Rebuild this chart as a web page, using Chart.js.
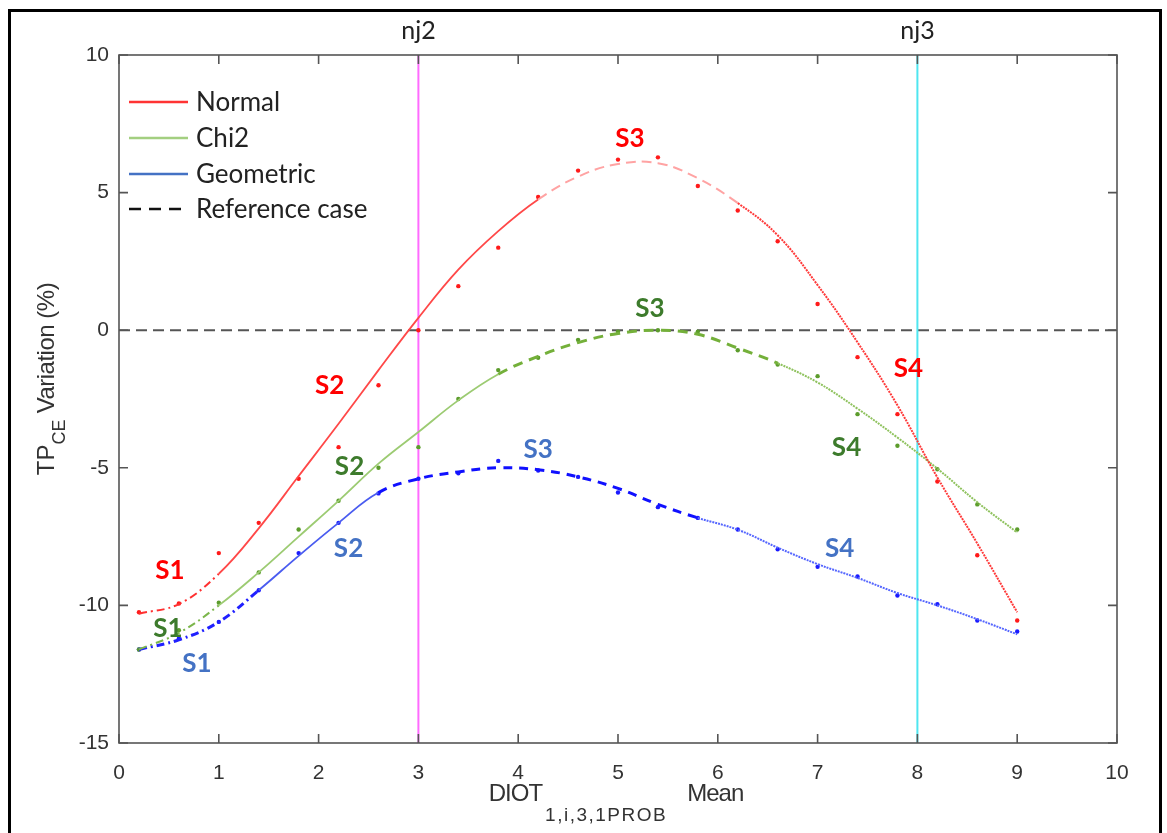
<!DOCTYPE html>
<html>
<head>
<meta charset="utf-8">
<script src="https://cdn.jsdelivr.net/npm/chart.js@4.4.1/dist/chart.umd.min.js"></script>
<style>
  html, body { margin: 0; background: #fff; }
</style>
</head>
<body>
<canvas id="grafico" width="1167" height="833"></canvas>
<script>
// sample points (x = DIOT mean)
const xs = [0.2, 0.6, 1.0, 1.4, 1.8, 2.2, 2.6, 3.0, 3.4, 3.8, 4.2, 4.6, 5.0, 5.4, 5.8, 6.2, 6.6, 7.0, 7.4, 7.8, 8.2, 8.6, 9.0];

// measured points
const normalPts = [-10.25, -9.93, -8.1, -7.0, -5.4, -4.25, -2.0, 0.0, 1.6, 3.0, 4.84, 5.8, 6.2, 6.28, 5.24, 4.35, 3.23, 0.95, -0.98, -3.05, -5.5, -8.18, -10.55];
const chi2Pts   = [-11.6, -10.9, -9.9, -8.8, -7.24, -6.2, -5.0, -4.25, -2.5, -1.45, -1.0, -0.35, -0.05, 0.0, -0.05, -0.73, -1.25, -1.67, -3.05, -4.2, -5.05, -6.33, -7.24];
const geoPts    = [-11.6, -11.2, -10.6, -9.45, -8.1, -7.0, -5.93, -5.4, -5.2, -4.75, -5.1, -5.33, -5.9, -6.43, -6.82, -7.24, -7.96, -8.6, -8.95, -9.64, -9.96, -10.55, -10.95];

// fitted curves
const normalFit = [-10.3, -9.95, -8.85, -7.2, -5.3, -3.4, -1.45, 0.45, 2.2, 3.6, 4.75, 5.58, 6.04, 6.07, 5.52, 4.62, 3.45, 1.64, -0.44, -2.73, -5.35, -7.75, -10.25];
const chi2Fit   = [-11.6, -11.0, -10.0, -8.8, -7.5, -6.2, -4.85, -3.7, -2.55, -1.6, -0.95, -0.45, -0.12, 0.0, -0.15, -0.65, -1.2, -1.9, -2.85, -3.9, -5.03, -6.25, -7.35];
const geoFit    = [-11.6, -11.25, -10.6, -9.45, -8.2, -7.0, -5.9, -5.4, -5.15, -5.0, -5.07, -5.33, -5.75, -6.33, -6.82, -7.25, -7.9, -8.5, -9.0, -9.55, -10.0, -10.5, -11.05];

// stage boundaries S1|S2|S3|S4
const normalCuts = [1.0, 4.2, 6.2];
const chi2Cuts   = [1.0, 3.8, 6.6];
const geoCuts    = [1.4, 2.6, 5.8];

const seriesNames = ['Normal', 'Chi2', 'Geometric', 'Reference case'];
const xTicks = [0, 1, 2, 3, 4, 5, 6, 7, 8, 9, 10];
const yTicks = [-15, -10, -5, 0, 5, 10];
const markerNames = ['nj2', 'nj3'];
const markerX = [3, 8];

// stage labels: text, x, y, series index
const stageText = ['S1', 'S2', 'S3', 'S4', 'S1', 'S2', 'S3', 'S4', 'S1', 'S2', 'S3', 'S4'];
const stageX = [0.51, 2.11, 5.12, 7.91, 0.49, 2.31, 5.32, 7.29, 0.78, 2.3, 4.2, 7.22];
const stageY = [-8.73, -2.0, 6.95, -1.4, -10.84, -4.95, 0.8, -4.25, -12.12, -7.93, -4.33, -7.95];
const stageSeries = [0, 0, 0, 0, 1, 1, 1, 1, 2, 2, 2, 2];

const labelColors = ['#ff0000', '#3d7b2c', '#4472c4'];
const legendColors = ['#ff3333', '#a3cf80', '#4472c4', '#111'];

const styles = [
  [ {c: '#ff3030', w: 2, d: [8, 4, 2, 4]}, {c: '#ff4848', w: 1.8, d: []}, {c: '#ffa3a3', w: 2, d: [10, 6]}, {c: '#ff3a3a', w: 2, d: [2, 1]} ],
  [ {c: '#7cb64c', w: 2, d: [8, 4, 2, 4]}, {c: '#9ccb72', w: 1.8, d: []}, {c: '#74b03a', w: 3, d: [10, 7]}, {c: '#8fc25e', w: 2, d: [2, 1]} ],
  [ {c: '#2020ff', w: 3, d: [8, 4, 2, 4]}, {c: '#4a5cf0', w: 1.8, d: []}, {c: '#1010ff', w: 3, d: [9, 7]}, {c: '#5566ff', w: 2, d: [2, 1]} ]
];
const dotColors = ['#ff1a1a', '#5c9c2c', '#1a1aff'];

function pairs(vals) { return xs.map((x, i) => ({x: x, y: vals[i]})); }
function stageOf(cuts, x) { let s = 0; cuts.forEach(c => { if (x >= c - 1e-6) s++; }); return s; }

function fitSet(vals, cuts, k) {
  return {
    data: pairs(vals), showLine: true, pointRadius: 0, tension: 0.4,
    borderColor: styles[k][1].c, borderWidth: 2,
    segment: {
      borderColor: ctx => styles[k][stageOf(cuts, ctx.p0.parsed.x)].c,
      borderWidth: ctx => styles[k][stageOf(cuts, ctx.p0.parsed.x)].w,
      borderDash: ctx => styles[k][stageOf(cuts, ctx.p0.parsed.x)].d
    }
  };
}
function dotSet(vals, k) {
  return { data: pairs(vals), showLine: false, pointRadius: 2.2, pointBorderWidth: 0,
           pointBackgroundColor: dotColors[k], borderColor: dotColors[k] };
}

function drawRich(c, parts, x, y) {
  // parts: [text, size, dy, spacing, gapBefore]
  const setF = p => { c.font = p[1] + 'px "Liberation Sans", Arial'; c.letterSpacing = (p[3] || 0) + 'px'; };
  let total = 0;
  parts.forEach(p => { setF(p); total += c.measureText(p[0]).width + (p[4] || 0); });
  let cx = x - total / 2;
  parts.forEach(p => {
    setF(p);
    cx += (p[4] || 0);
    c.fillText(p[0], cx, y + p[2]);
    cx += c.measureText(p[0]).width;
  });
  c.letterSpacing = '0px';
}

const decor = {
  id: 'decor',
  beforeDraw(chart) {
    const c = chart.ctx;
    c.save(); c.fillStyle = '#fff'; c.fillRect(0, 0, chart.width, chart.height); c.restore();
  },
  beforeDatasetsDraw(chart) {
    const c = chart.ctx, a = chart.chartArea, sx = chart.scales.x, sy = chart.scales.y;
    c.save();
    // reference case line
    c.strokeStyle = '#555'; c.lineWidth = 2; c.setLineDash([11, 6]);
    c.beginPath(); c.moveTo(a.left, sy.getPixelForValue(0)); c.lineTo(a.right, sy.getPixelForValue(0)); c.stroke();
    // nj markers
    c.setLineDash([]);
    const mc = ['#ff6bff', '#4fe6f0'];
    markerX.forEach((v, i) => {
      const px = sx.getPixelForValue(v);
      c.strokeStyle = mc[i]; c.lineWidth = 2;
      c.beginPath(); c.moveTo(px, a.top); c.lineTo(px, a.bottom); c.stroke();
      c.fillStyle = '#222'; c.font = '25px Lato, "Open Sans", sans-serif';
      c.textAlign = 'center'; c.textBaseline = 'alphabetic';
      c.fillText(markerNames[i], px, a.top - 16);
    });
    c.restore();
  },
  afterDraw(chart) {
    const c = chart.ctx, a = chart.chartArea, sx = chart.scales.x, sy = chart.scales.y;
    c.save();
    // axes box with inward ticks
    c.strokeStyle = '#555'; c.lineWidth = 1.6;
    c.strokeRect(a.left, a.top, a.right - a.left, a.bottom - a.top);
    c.beginPath();
    xTicks.forEach(v => {
      const px = sx.getPixelForValue(v);
      c.moveTo(px, a.bottom); c.lineTo(px, a.bottom - 9);
      c.moveTo(px, a.top); c.lineTo(px, a.top + 9);
    });
    yTicks.forEach(v => {
      const py = sy.getPixelForValue(v);
      c.moveTo(a.left, py); c.lineTo(a.left + 9, py);
      c.moveTo(a.right, py); c.lineTo(a.right - 9, py);
    });
    c.stroke();

    // stage labels
    c.font = 'bold 26px Lato, "Open Sans", sans-serif';
    c.textAlign = 'center'; c.textBaseline = 'middle';
    stageText.forEach((t, i) => {
      c.fillStyle = labelColors[stageSeries[i]];
      c.fillText(t, sx.getPixelForValue(stageX[i]), sy.getPixelForValue(stageY[i]));
    });

    // legend
    c.textAlign = 'left'; c.textBaseline = 'middle';
    c.font = '26px Lato, "Open Sans", sans-serif';
    const ly = [102, 138, 174, 209];
    seriesNames.forEach((n, i) => {
      c.strokeStyle = legendColors[i]; c.lineWidth = 2.5;
      c.setLineDash(i === 3 ? [12, 8] : []);
      c.beginPath(); c.moveTo(129, ly[i]); c.lineTo(188, ly[i]); c.stroke();
      c.fillStyle = '#222'; c.fillText(n, 196, ly[i] + 1);
    });
    c.setLineDash([]);

    // axis titles
    c.fillStyle = '#333'; c.textAlign = 'left'; c.textBaseline = 'alphabetic';
    drawRich(c, [['DIOT', 24, 0, -1], ['1,i,3,1PROB', 19, 20, 1.5, 3], ['Mean', 24, 0, -1, 20]], 616, 801);
    c.save();
    c.translate(54, 379);
    c.rotate(-Math.PI / 2);
    drawRich(c, [['TP', 24, 0], ['CE', 18, 11], [' Variation (%)', 24, 0, -0.5]], 0, 0);
    c.restore();

    // outer frame
    c.strokeStyle = '#000'; c.lineWidth = 3;
    c.strokeRect(9.5, 10.5, 1151, 840);
    c.restore();
  }
};

const ctx = document.getElementById('grafico');
const chart = new Chart(ctx, {
  type: 'scatter',
  data: {
    datasets: [
      fitSet(normalFit, normalCuts, 0),
      fitSet(chi2Fit, chi2Cuts, 1),
      fitSet(geoFit, geoCuts, 2),
      dotSet(normalPts, 0),
      dotSet(chi2Pts, 1),
      dotSet(geoPts, 2)
    ]
  },
  options: {
    responsive: false,
    animation: false,
    layout: { padding: { top: 55, right: 50, left: 0, bottom: 0 } },
    plugins: { legend: { display: false }, tooltip: { enabled: false } },
    scales: {
      x: {
        type: 'linear', min: 0, max: 10,
        afterBuildTicks: s => { s.ticks = xTicks.map(v => ({value: v})); },
        afterFit: s => { s.height = 90; },
        grid: { display: false }, border: { display: false },
        ticks: { color: '#333', font: { family: '"Liberation Sans", Arial', size: 21 }, padding: 10, maxRotation: 0 }
      },
      y: {
        type: 'linear', min: -15, max: 10,
        afterBuildTicks: s => { s.ticks = yTicks.map(v => ({value: v})); },
        afterFit: s => { s.width = 119; },
        grid: { display: false }, border: { display: false },
        ticks: { color: '#333', font: { family: '"Liberation Sans", Arial', size: 21 }, padding: 2 }
      }
    }
  },
  plugins: [decor]
});
</script>
</body>
</html>
